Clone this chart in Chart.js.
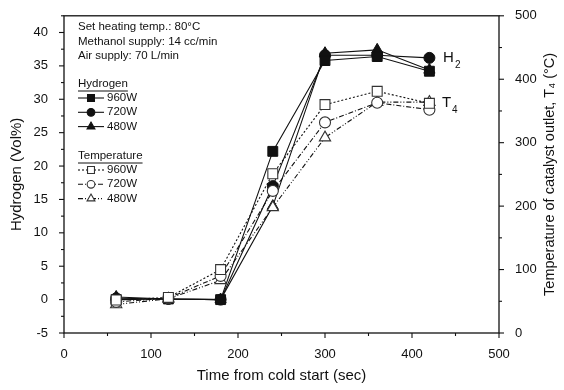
<!DOCTYPE html>
<html>
<head>
<meta charset="utf-8">
<script src="https://cdn.jsdelivr.net/npm/chart.js@4.4.1/dist/chart.umd.min.js"></script>
<style>
  html, body { margin: 0; padding: 0; background: #fff; }
  #wrap { width: 564px; height: 390px; }
</style>
</head>
<body>
<div id="wrap"><canvas id="chart" width="564" height="390"></canvas></div>
<script>
// time from cold start (sec)
const times = [60, 120, 180, 240, 300, 360, 420];

// hydrogen concentration (vol%)
const h2_960 = [0.0, 0.1, 0.0, 22.2, 35.8, 36.4, 34.2];
const h2_720 = [0.2, 0.1, 0.0, 17.0, 36.6, 36.6, 36.2];
const h2_480 = [0.4, 0.1, 0.0, 14.0, 36.9, 37.4, 34.4];

// catalyst outlet temperature T4 (°C)
const t_960 = [52, 56, 100, 251, 360, 381, 362];
const t_720 = [49, 55, 90, 224, 332, 363, 352];
const t_480 = [45, 54, 83, 198, 308, 364, 364];

const xTicks = [0, 100, 200, 300, 400, 500];
const yTicks = [-5, 0, 5, 10, 15, 20, 25, 30, 35, 40];
const y2Ticks = [0, 100, 200, 300, 400, 500];

const notes = ["Set heating temp.: 80°C", "Methanol supply: 14 cc/min", "Air supply: 70 L/min"];
const powers = ["960W", "720W", "480W"];

const FONT = "'Liberation Sans', Arial, sans-serif";
const INK = "#111";

const pts = (ys) => times.map((t, i) => ({ x: t, y: ys[i] }));

const tempDash = [[2, 2], [5, 2, 1, 2], [5, 2, 1, 2, 1, 2]];
const styles = ["rect", "circle", "triangle"];
const radii = [7, 5.5, 6.5];

function h2Set(label, data, i) {
  return {
    label, data: pts(data), yAxisID: "y",
    borderColor: INK, borderWidth: 1.1,
    pointStyle: styles[i], pointRadius: radii[i],
    pointBackgroundColor: INK, pointBorderColor: INK, pointBorderWidth: 1,
    order: 10 + i,
  };
}
function tSet(label, data, i) {
  return {
    label, data: pts(data), yAxisID: "y2",
    borderColor: INK, borderWidth: 1.1, borderDash: tempDash[i],
    pointStyle: styles[i], pointRadius: radii[i],
    pointBackgroundColor: "#fff", pointBorderColor: "#333", pointBorderWidth: 1.1,
    order: i,
  };
}

// axis ticks, frame, titles and the in-plot notes/legend
const decor = {
  id: "decor",
  afterDraw(chart) {
    const { ctx, chartArea: a, scales } = chart;
    ctx.save();
    ctx.strokeStyle = INK;
    ctx.lineWidth = 1.3;
    ctx.setLineDash([]);
    ctx.strokeRect(a.left, a.top, a.right - a.left, a.bottom - a.top);

    const tick = (x1, y1, x2, y2) => { ctx.beginPath(); ctx.moveTo(x1, y1); ctx.lineTo(x2, y2); ctx.stroke(); };
    ctx.lineWidth = 1.1;
    for (let v = 0; v <= 500; v += 50) {
      const x = scales.x.getPixelForValue(v);
      tick(x, a.bottom, x, a.bottom + (v % 100 === 0 ? 5 : 3));
    }
    for (let v = -5; v <= 42.5; v += 2.5) {
      const y = scales.y.getPixelForValue(v);
      tick(a.left, y, a.left - (v % 5 === 0 ? 5 : 3), y);
    }
    for (let v = 0; v <= 500; v += 50) {
      const y = scales.y2.getPixelForValue(v);
      tick(a.right, y, a.right + (v % 100 === 0 ? 5 : 3), y);
    }

    ctx.fillStyle = INK;
    // axis titles
    ctx.font = "15px " + FONT;
    ctx.textAlign = "center";
    ctx.textBaseline = "middle";
    ctx.fillText("Time from cold start (sec)", (a.left + a.right) / 2, 376);
    ctx.save();
    ctx.translate(17, (a.top + a.bottom) / 2);
    ctx.rotate(-Math.PI / 2);
    ctx.fillText("Hydrogen (Vol%)", 0, 0);
    ctx.restore();
    ctx.save();
    ctx.translate(550, (a.top + a.bottom) / 2);
    ctx.rotate(-Math.PI / 2);
    ctx.font = "14.5px " + FONT;
    ctx.fillText("Temperature of catalyst outlet, T\u2084 (\u00B0C)", 0, 0);
    ctx.restore();

    // notes
    ctx.font = "11.5px " + FONT;
    ctx.textAlign = "left";
    notes.forEach((s, i) => ctx.fillText(s, 78, 27 + i * 14.5));

    // legend groups
    const group = (title, y0, filled, dashes) => {
      ctx.fillStyle = INK;
      ctx.fillText(title, 78, y0);
      const w = ctx.measureText(title).width;
      ctx.lineWidth = 1;
      ctx.setLineDash([]);
      tick(78, y0 + 7, 78 + w, y0 + 7);
      powers.forEach((p, i) => {
        const y = y0 + 14 + i * 14.3;
        ctx.strokeStyle = INK;
        ctx.lineWidth = 1.1;
        ctx.setLineDash(dashes ? dashes[i] : []);
        tick(78, y, 104, y);
        ctx.setLineDash([]);
        ctx.fillStyle = filled ? INK : "#fff";
        ctx.strokeStyle = filled ? INK : "#333";
        Chart.helpers.drawPoint(ctx, { pointStyle: styles[i], radius: radii[i] * 0.7, rotation: 0, borderWidth: 1 }, 91, y);
        ctx.fillStyle = INK;
        ctx.fillText(p, 107, y);
      });
    };
    group("Hydrogen", 84, true, null);
    group("Temperature", 156, false, tempDash);

    // series labels
    ctx.fillStyle = INK;
    ctx.font = "15px " + FONT;
    ctx.fillText("H", 443, 58);
    ctx.fillText("T", 442, 103);
    ctx.font = "10px " + FONT;
    ctx.fillText("2", 455, 65);
    ctx.fillText("4", 452, 110);
    ctx.restore();
  },
};

const tickFont = { family: FONT, size: 13 };

new Chart(document.getElementById("chart"), {
  type: "line",
  data: {
    datasets: [
      tSet("T 960W", t_960, 0),
      tSet("T 720W", t_720, 1),
      tSet("T 480W", t_480, 2),
      h2Set("H2 960W", h2_960, 0),
      h2Set("H2 720W", h2_720, 1),
      h2Set("H2 480W", h2_480, 2),
    ],
  },
  options: {
    responsive: false,
    animation: false,
    layout: { padding: { top: 12, left: 0, right: 0, bottom: 0 } },
    plugins: { legend: { display: false }, tooltip: { enabled: false } },
    elements: { line: { tension: 0 } },
    scales: {
      x: {
        type: "linear", min: 0, max: 500,
        afterBuildTicks: (s) => { s.ticks = xTicks.map((v) => ({ value: v })); },
        afterFit: (s) => { s.height = 57; },
        ticks: { font: tickFont, color: INK, padding: 6, maxRotation: 0 },
        grid: { display: false }, border: { display: false },
      },
      y: {
        type: "linear", position: "left", min: -5, max: 42.5,
        afterBuildTicks: (s) => { s.ticks = yTicks.map((v) => ({ value: v })); },
        afterFit: (s) => { s.width = 64; },
        ticks: { font: tickFont, color: INK, padding: 8 },
        grid: { display: false }, border: { display: false },
      },
      y2: {
        type: "linear", position: "right", min: 0, max: 500,
        afterBuildTicks: (s) => { s.ticks = y2Ticks.map((v) => ({ value: v })); },
        afterFit: (s) => { s.width = 65; },
        ticks: { font: tickFont, color: INK, padding: 8 },
        grid: { display: false }, border: { display: false },
      },
    },
  },
  plugins: [decor],
});
</script>
</body>
</html>
